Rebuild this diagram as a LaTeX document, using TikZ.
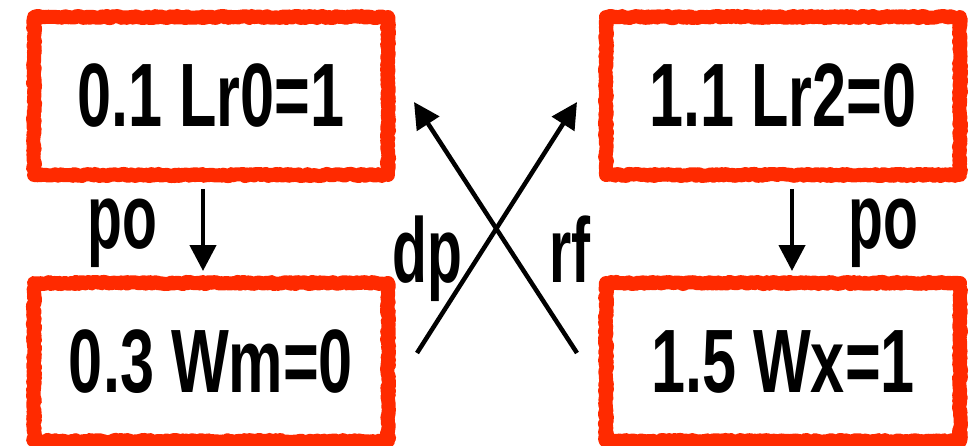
\documentclass[tikz,border=0pt]{standalone}
\usepackage{fontspec}
\usetikzlibrary{arrows.meta,calc,decorations.pathmorphing}
\newfontfamily\boxfont{Liberation Sans}[FakeStretch=0.68]
\newfontfamily\labfont{Liberation Sans}[FakeStretch=0.62]
\definecolor{boxred}{RGB}{255,42,0}
\tikzset{
  redbox/.style={draw=boxred, line width=14pt, line join=round,
    minimum width=354pt, minimum height=158pt, inner sep=0pt,
    decorate, decoration={random steps, segment length=2pt, amplitude=1.1pt},
    font=\boxfont\bfseries\fontsize{90}{90}\selectfont},
  lab/.style={anchor=base, inner sep=0pt, font=\labfont\bfseries\fontsize{92}{92}\selectfont},
  arr/.style={line width=4.5pt, -{Triangle[length=26pt,width=26pt]}}
}
\begin{document}
\begin{tikzpicture}[x=1pt,y=-1pt]
\useasboundingbox (0,0) rectangle (973,446);
\node[redbox] (tl) at (211,96) {0.1 Lr0=1};
\node[redbox] (tr) at (783,96) {1.1 Lr2=0};
\node[redbox] (bl) at (211,362) {0.3 Wm=0};
\node[redbox] (br) at (783,362) {1.5 Wx=1};
\draw[arr] ($(tl.south)+(-8,7)$) -- ($(bl.north)+(-8,-5)$);
\draw[arr] ($(tr.south)+(9,7)$) -- ($(br.north)+(9,-5)$);
\draw[arr] ($(br.west)+(-22,-9)$) -- ($(tl.east)+(19,6)$);
\draw[arr] ($(bl.east)+(22,-9)$) -- ($(tr.west)+(-22,6)$);
\node[lab] (po1) at (122,248) {po};
\node[lab] (po2) at (883,248) {po};
\node[lab] (dp) at (427,282) {dp};
\node[lab] (rf) at (570,282) {rf};
\end{tikzpicture}
\end{document}
